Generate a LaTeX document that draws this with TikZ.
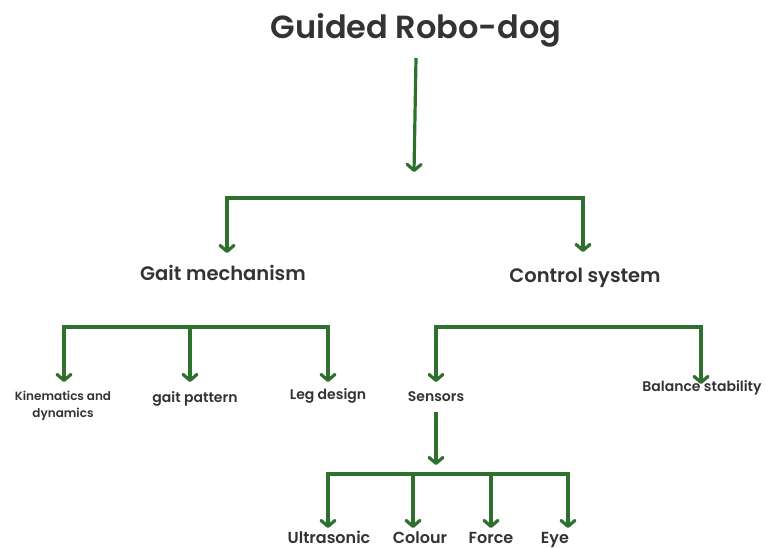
\documentclass[tikz,border=0pt]{standalone}
\usepackage{fontspec}
\setmainfont{Poppins}
\newfontfamily\popmed{Poppins SemiBold}
\usetikzlibrary{arrows.meta}
\definecolor{grn}{RGB}{47,112,47}
\definecolor{txt}{RGB}{51,51,51}
\begin{document}
\begin{tikzpicture}[x=1pt,y=-1pt,line join=miter,
  conn/.style={draw=grn,line width=3.2pt},
  arr/.style={conn,-{Straight Barb[length=6pt,width=14pt,round]}},
  arr2/.style={conn,{Straight Barb[length=6pt,width=14pt,round]}-{Straight Barb[length=6pt,width=14pt,round]}},
  lbl/.style={text=txt,inner sep=0pt,anchor=base,align=center},
  ttl/.style={lbl,font=\popmed\fontsize{32pt}{36pt}\selectfont},
  lone/.style={lbl,font=\popmed\fontsize{19.5pt}{23pt}\selectfont},
  lthree/.style={lbl,font=\popmed\fontsize{14pt}{17pt}\selectfont},
  lkin/.style={lbl,font=\popmed\fontsize{12pt}{17pt}\selectfont},
  lfour/.style={lbl,text depth=0pt,font=\popmed\fontsize{16pt}{18pt}\selectfont}]
\path[use as bounding box] (0,0) rectangle (766,548);
% nodes
\node[ttl] (root) at (416,39) {Guided Robo-dog};
\node[lone] (gait) at (223,280) {Gait mechanism};
\node[lone] (ctrl) at (585,283) {Control system};
\node[lkin,anchor=north] (kin) at (63,391) {Kinematics and\\dynamics};
\node[lthree] (gpat) at (195,402) {gait pattern};
\node[lthree] (leg) at (328,399) {Leg design};
\node[lthree] (sens) at (436,401) {Sensors};
\node[lthree] (bal) at (702,391) {Balance stability};
\node[lfour] (ultra) at (329,543) {Ultrasonic};
\node[lfour] (col) at (420,543) {Colour};
\node[lfour] (force) at (491,543) {Force};
\node[lfour] (eye) at (555,543) {Eye};
% coordinates
\coordinate (r0) at (416,58);
\coordinate (r1) at (414,172);
\coordinate (a1) at (227,253);
\coordinate (a1b) at (227,198);
\coordinate (a2b) at (583,198);
\coordinate (a2) at (583,252);
\coordinate (g1) at (64,382);
\coordinate (g1b) at (64,327);
\coordinate (g3b) at (328,327);
\coordinate (g3) at (328,382);
\coordinate (g2b) at (190,327);
\coordinate (g2) at (190,382);
\coordinate (c1) at (436,382);
\coordinate (c1b) at (436,327);
\coordinate (c2b) at (701,327);
\coordinate (c2) at (701,384);
\coordinate (s0) at (436,412);
\coordinate (s1) at (436,465);
\coordinate (u) at (328,528);
\coordinate (ub) at (328,474);
\coordinate (eb) at (568,474);
\coordinate (e) at (568,528);
\coordinate (cb) at (413,474);
\coordinate (cc) at (413,528);
\coordinate (fb) at (491,474);
\coordinate (ff) at (491,528);
% connectors
\draw[arr] (r0) -- (r1);
\draw[arr2] (a1) -- (a1b) -- (a2b) -- (a2);
\draw[arr2] (g1) -- (g1b) -- (g3b) -- (g3);
\draw[arr] (g2b) -- (g2);
\draw[arr2] (c1) -- (c1b) -- (c2b) -- (c2);
\draw[arr] (s0) -- (s1);
\draw[arr2] (u) -- (ub) -- (eb) -- (e);
\draw[arr] (cb) -- (cc);
\draw[arr] (fb) -- (ff);
\end{tikzpicture}
\end{document}
